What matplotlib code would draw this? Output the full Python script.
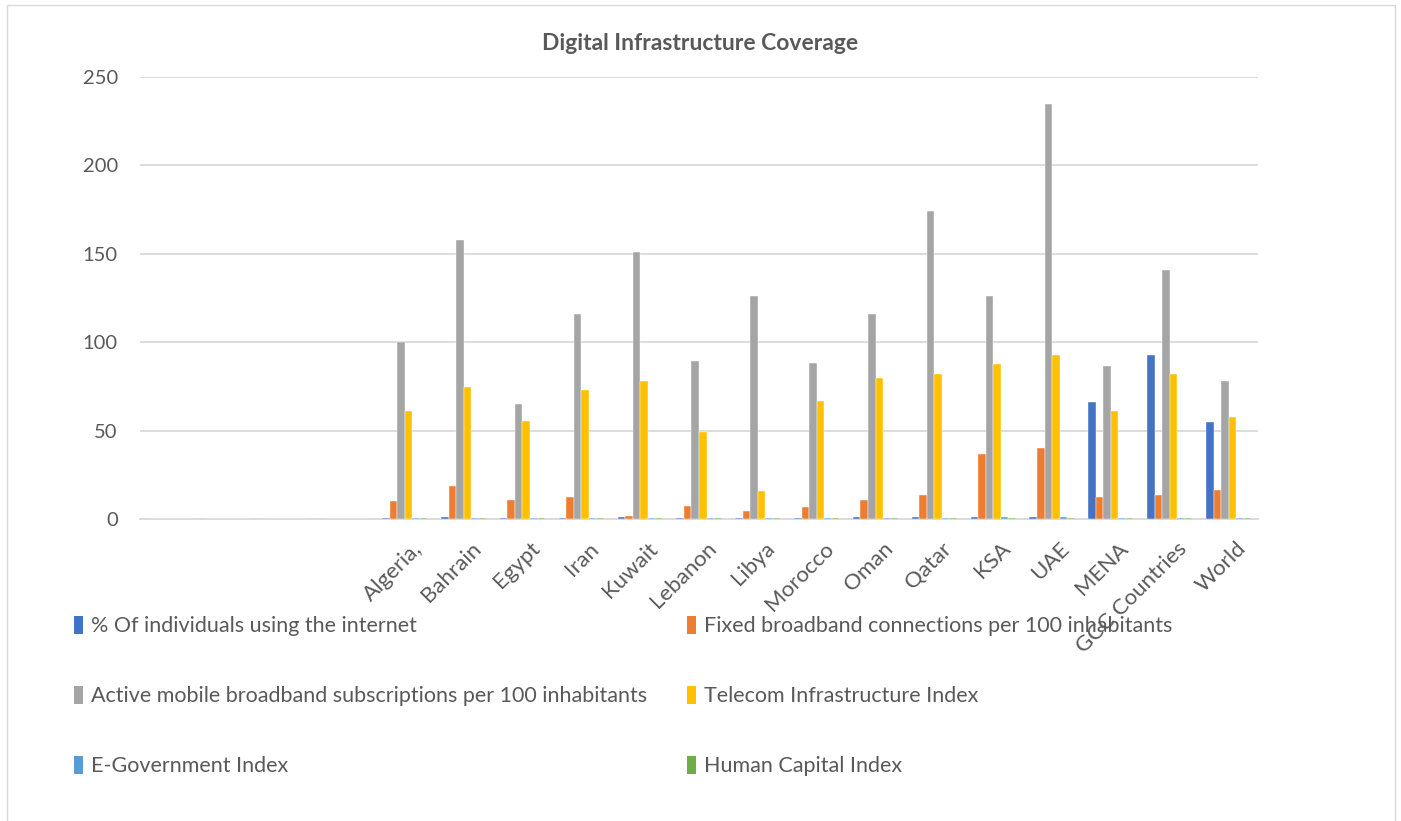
"""
plot.py - Digital Infrastructure Coverage, clustered column chart (Excel style).
"""

import numpy as np
import matplotlib
matplotlib.use("Agg")
import matplotlib.pyplot as plt
import matplotlib.transforms as mtransforms
from matplotlib.patches import Rectangle, Patch

plt.rcParams["font.family"] = ["Lato", "DejaVu Sans"]

# four empty category slots come first in the source sheet
categories = ["", "", "", "", "Algeria,", "Bahrain", "Egypt", "Iran", "Kuwait",
              "Lebanon", "Libya", "Morocco", "Oman", "Qatar", "KSA", "UAE",
              "MENA", "GCC Countries", "World"]

series_names = [
    "% Of individuals using the internet",
    "Fixed broadband connections per 100 inhabitants",
    "Active mobile broadband subscriptions per 100 inhabitants",
    "Telecom Infrastructure Index",
    "E-Government Index",
    "Human Capital Index",
]

internet = [0, 0, 0, 0, 0.5, 1.0, 0.6, 0.8, 1.0, 0.8, 0.7, 0.7, 0.9, 1.0, 1.0, 1.0, 66, 93, 55]
fixed_bb = [0, 0, 0, 0, 10.4, 18.6, 10.7, 12.5, 1.5, 7.5, 4.6, 6.6, 11.0, 13.6, 37.0, 40.0, 12.5, 13.6, 16.5]
mobile_bb = [0, 0, 0, 0, 100, 158, 65, 116, 151, 89.5, 126, 88.5, 116, 174, 126, 235, 86.5, 141, 78]
telecom = [0, 0, 0, 0, 61, 74.5, 55.5, 73, 77.8, 49, 15.8, 67, 80, 82, 87.5, 93, 61, 82, 57.8]
egov = [0, 0, 0, 0, 0.52, 0.81, 0.59, 0.69, 0.80, 0.59, 0.42, 0.62, 0.80, 0.72, 0.88, 0.90, 0.61, 0.82, 0.60]
hci = [0, 0, 0, 0, 0.53, 0.70, 0.50, 0.59, 0.58, 0.54, 0.56, 0.50, 0.61, 0.64, 0.58, 0.67, 0.55, 0.65, 0.57]

colors = ["#4472C4", "#ED7D31", "#A5A5A5", "#FFC000", "#5B9BD5", "#70AD47"]
TXT = "#595959"

fig = plt.figure(figsize=(14.01, 8.21), dpi=100)
ax = fig.add_axes([140 / 1401, 1 - 519 / 821, 1118 / 1401, 442 / 821])

x = np.arange(len(categories))
width = 0.128
data = [internet, fixed_bb, mobile_bb, telecom, egov, hci]
for i, (vals, c) in enumerate(zip(data, colors)):
    off = (i - 2.5) * width
    ax.bar(x + off, vals, width, color=c, edgecolor="white", linewidth=0.3, zorder=3)

ax.set_xlim(-0.5, len(categories) - 0.5)
ax.set_ylim(0, 250)
ax.set_yticks([0, 50, 100, 150, 200, 250])
ax.grid(axis="y", color="#d9d9d9", linewidth=1.3, zorder=0)
ax.set_axisbelow(True)
for s in ["top", "right", "left"]:
    ax.spines[s].set_visible(False)
ax.spines["bottom"].set_color("#d9d9d9")
ax.spines["bottom"].set_linewidth(1.3)
ax.tick_params(axis="both", length=0, colors=TXT)
ax.tick_params(axis="y", pad=16, labelsize=14.5)
ax.tick_params(axis="x", pad=14, labelsize=16)
ax.set_xticks(x)
ax.set_xticklabels(categories, rotation=45, ha="right", rotation_mode="anchor")
# nudge the slanted labels a little to the right, as Excel places them
nudge = mtransforms.ScaledTranslation(7 / 100, 0, fig.dpi_scale_trans)
for lbl in ax.get_xticklabels():
    lbl.set_transform(lbl.get_transform() + nudge)

fig.text(0.5, 1 - 43 / 821, "Digital Infrastructure Coverage", ha="center", va="center",
         fontsize=16.5, fontweight="bold", color=TXT)

# two separate legends so rows read across like the original
handles = [Patch(facecolor=c) for c in colors]
leg_kw = dict(frameon=False, fontsize=15.5, labelcolor=TXT, handlelength=0.4,
              handleheight=0.9, handletextpad=0.4, labelspacing=2.3,
              borderaxespad=0, borderpad=0)
fig.legend([handles[0], handles[2], handles[4]],
           [series_names[0], series_names[2], series_names[4]],
           loc="upper left", bbox_to_anchor=(74 / 1401, 1 - 616 / 821), **leg_kw)
fig.legend([handles[1], handles[3], handles[5]],
           [series_names[1], series_names[3], series_names[5]],
           loc="upper left", bbox_to_anchor=(687 / 1401, 1 - 616 / 821), **leg_kw)

# chart area border
fig.patches.append(Rectangle((7 / 1401, -0.01), 1388 / 1401, 1 - 5 / 821 + 0.01,
                             transform=fig.transFigure, fill=False,
                             edgecolor="#d9d9d9", linewidth=1.0))

fig.savefig("out.png", dpi=100)
